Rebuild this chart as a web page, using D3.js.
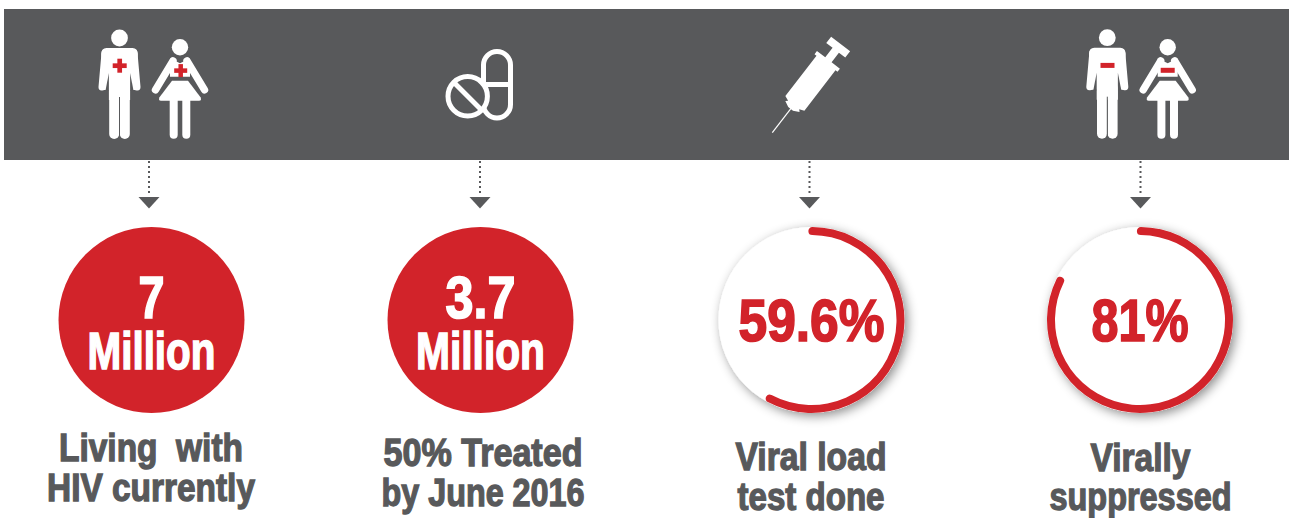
<!DOCTYPE html>
<html>
<head>
<meta charset="utf-8">
<script src="https://cdn.jsdelivr.net/npm/d3@7"></script>
<style>
  html, body { margin: 0; padding: 0; background: #fff; }
  svg { display: block; }
  text { font-family: "Liberation Sans Narrow", "Liberation Sans", sans-serif; font-weight: 700; white-space: pre; }
</style>
</head>
<body>
<svg id="chart" width="1290" height="518"></svg>
<script>
const columns = ["living", "treated", "tested", "suppressed"];
const bigValues = ["7", "3.7", "59.6%", "81%"];
const bigUnits = ["Million", "Million", "", ""];
const ringShares = [null, null, 0.585, 0.83];
const captionTop = ["Living  with", "50% Treated", "Viral load", "Virally"];
const captionBottom = ["HIV currently", "by June 2016", "test done", "suppressed"];

const valueWidths = [26, 70, 146, 97];
const unitWidths = [128, 129, 0, 0];
const topWidths = [184, 199, 151, 100];
const bottomWidths = [208, 203, 147, 182];
const topBaselines = [461, 466, 470, 471];
const bottomBaselines = [501, 506, 510, 510];
const captionCentres = [151, 483, 811, 1140.5];
const arrowCentres = [149, 480, 809.5, 1140.5];
const circleCentres = [151.5, 480.5, 811.5, 1140];

const grey = "#58595b";
const red = "#d2232a";
const radius = 93;
const cy = 320;

const svg = d3.select("#chart");
const defs = svg.append("defs");
const shadow = defs.append("filter").attr("id", "soft")
  .attr("x", "-25%").attr("y", "-25%").attr("width", "150%").attr("height", "150%");
shadow.append("feDropShadow")
  .attr("dx", 3).attr("dy", 3).attr("stdDeviation", 5.5)
  .attr("flood-color", "#000").attr("flood-opacity", 0.45);

const arrowX = d3.scaleOrdinal().domain(columns).range(arrowCentres);
const circleX = d3.scaleOrdinal().domain(columns).range(circleCentres);
const ringAngle = d3.scaleLinear().domain([0, 1]).range([0, 2 * Math.PI]);

svg.append("rect")
  .attr("x", 4).attr("y", 9).attr("width", 1285).attr("height", 151)
  .attr("fill", grey);

// people icons, origin is the centre of the head
function man(g, x, y, mark) {
  const p = g.append("g").attr("transform", `translate(${x},${y})`).attr("fill", "#fff");
  p.append("circle").attr("r", 8.4);
  p.append("path").attr("d", "M-13,10 L13,10 Q18,10 18.3,16 L16,52 L10.6,52 L10.6,62 L-10.6,62 L-10.6,52 L-16,52 L-18.3,16 Q-18,10 -13,10 Z");
  [-1, 1].forEach(s => {
    p.append("line").attr("x1", s * 14.5).attr("y1", 15).attr("x2", s * 17.5).attr("y2", 49)
      .attr("stroke", "#fff").attr("stroke-width", 7).attr("stroke-linecap", "round");
    p.append("path").attr("d", `M${s * 10.6},35 L${s * 14},52.5 L${s * 10.6},52.5 Z`).attr("fill", grey);
    p.append("line").attr("x1", s * 5.3).attr("y1", 50).attr("x2", s * 5.3).attr("y2", 96)
      .attr("stroke", "#fff").attr("stroke-width", 10).attr("stroke-linecap", "round");
  });
  p.append("line").attr("x1", 0).attr("y1", 59).attr("x2", 0).attr("y2", 101)
    .attr("stroke", grey).attr("stroke-width", 1);
  mark(p, 0.2, 27.7);
}

function woman(g, x, y, mark) {
  const p = g.append("g").attr("transform", `translate(${x},${y})`).attr("fill", "#fff");
  p.append("circle").attr("r", 8.2);
  [-1, 1].forEach(s => {
    p.append("line").attr("x1", s * 7).attr("y1", 13.5).attr("x2", s * 24.5).attr("y2", 42.5)
      .attr("stroke", "#fff").attr("stroke-width", 7.4).attr("stroke-linecap", "round");
    p.append("line").attr("x1", s * 6.3).attr("y1", 50).attr("x2", s * 6.3).attr("y2", 87.5)
      .attr("stroke", "#fff").attr("stroke-width", 8).attr("stroke-linecap", "round");
  });
  p.append("path").attr("d", "M-10,11 L0,16 L10,11 L10,29.5 L-10,29.5 Z");
  p.append("path").attr("d", "M-8,33.5 L8,33.5 L20.5,50 Q22,53.5 19,53.5 L-19,53.5 Q-22,53.5 -20.5,50 Z");
  mark(p, 0.7, 23.3);
}

function plus(size, thick) {
  return (p, x, y) => {
    p.append("rect").attr("x", x - size / 2).attr("y", y - thick / 2).attr("width", size).attr("height", thick).attr("fill", red);
    p.append("rect").attr("x", x - thick / 2).attr("y", y - size / 2).attr("width", thick).attr("height", size).attr("fill", red);
  };
}

function minus(p, x, y) {
  p.append("rect").attr("x", x - 7).attr("y", y - 2.5).attr("width", 14).attr("height", 5).attr("fill", red);
}

const icons = svg.append("g").attr("class", "icons");
man(icons, 119.5, 38, plus(14, 4.7));
woman(icons, 180, 47.3, plus(13, 4.5));
man(icons, 1107.3, 37.7, minus);
woman(icons, 1167.7, 47.3, (p, x) => minus(p, x - 0.7, 23));

// pills, the tablet sits on top of the capsule
const pill = icons.append("g").attr("fill", "none").attr("stroke", "#fff").attr("stroke-width", 5);
pill.append("path").attr("d", "M483.5,65 A13.5,13.5 0 0 1 510.5,65 L510.5,104.5 A13.5,13.5 0 0 1 483.5,104.5 Z");
pill.append("line").attr("x1", 483.5).attr("y1", 84.5).attr("x2", 510.5).attr("y2", 84.5);
pill.append("circle").attr("cx", 467.7).attr("cy", 96.3).attr("r", 19.7).attr("fill", grey);
pill.append("line").attr("x1", 453.7).attr("y1", 82.3).attr("x2", 481.7).attr("y2", 110.3);

// syringe, drawn upright from the needle tip and then tilted
const syringe = icons.append("g").attr("transform", "translate(772.3,132.7) rotate(37.6)").attr("fill", "#fff");
syringe.append("rect").attr("x", -0.6).attr("y", -32).attr("width", 1.2).attr("height", 32);
syringe.append("path").attr("d", "M-3,-30 L-9,-33 L-7,-35 L-12,-37 L-12,-88 L-14.5,-88 L-14.5,-92 L-4,-92 L-4,-104 L-12,-104 L-12,-112 L12,-112 L12,-104 L4,-104 L4,-92 L14.5,-92 L14.5,-88 L12,-88 L12,-37 L7,-35 L9,-33 L3,-30 Z");

// dotted drops from the banner
const drops = svg.append("g").selectAll("g").data(columns).join("g")
  .attr("transform", d => `translate(${arrowX(d)},0)`);
drops.append("line")
  .attr("y1", 161).attr("y2", 193)
  .attr("stroke", grey).attr("stroke-width", 2).attr("stroke-dasharray", "2 3");
drops.append("path")
  .attr("d", "M-10.5,197 L10.5,197 L0,208.5 Z").attr("fill", grey);

const badges = svg.append("g").selectAll("g").data(columns).join("g")
  .attr("transform", d => `translate(${circleX(d)},${cy})`);

badges.append("circle")
  .attr("r", radius)
  .attr("fill", (d, i) => ringShares[i] === null ? red : "#fff")
  .attr("filter", (d, i) => ringShares[i] === null ? null : "url(#soft)");

const ring = d3.arc().innerRadius(radius - 8).outerRadius(radius).cornerRadius(4).startAngle(-0.035);
badges.filter((d, i) => ringShares[i] !== null)
  .append("path")
  .attr("fill", red)
  .attr("d", d => ring({ endAngle: ringAngle(ringShares[columns.indexOf(d)]) }));

function fitText(sel, size, fill, weight) {
  return sel.attr("text-anchor", "middle")
    .attr("font-size", size)
    .attr("fill", fill)
    .attr("stroke", fill)
    .attr("stroke-width", weight)
    .attr("lengthAdjust", "spacingAndGlyphs");
}

// value and unit share one text element, the unit sits on a second line
const bigText = badges.append("text")
  .attr("text-anchor", "middle")
  .attr("fill", (d, i) => ringShares[i] === null ? "#fff" : red)
  .attr("stroke", (d, i) => ringShares[i] === null ? "#fff" : red);

bigText.append("tspan")
  .text((d, i) => bigValues[i])
  .attr("x", 0)
  .attr("y", (d, i) => ringShares[i] === null ? -2 : 21)
  .attr("textLength", (d, i) => valueWidths[i])
  .attr("lengthAdjust", "spacingAndGlyphs")
  .attr("font-size", 60)
  .attr("stroke-width", 1.7);

bigText.filter((d, i) => bigUnits[i] !== "")
  .append("tspan")
  .text(d => bigUnits[columns.indexOf(d)])
  .attr("x", 0)
  .attr("y", 49)
  .attr("textLength", d => unitWidths[columns.indexOf(d)])
  .attr("lengthAdjust", "spacingAndGlyphs")
  .attr("font-size", 51)
  .attr("stroke-width", 1.5);

const captions = svg.append("g").selectAll("g").data(columns).join("g")
  .attr("transform", (d, i) => `translate(${captionCentres[i]},0)`);
captions.append("text")
  .text((d, i) => captionTop[i])
  .attr("y", (d, i) => topBaselines[i])
  .attr("textLength", (d, i) => topWidths[i])
  .call(s => fitText(s, 38, grey, 1.3));
captions.append("text")
  .text((d, i) => captionBottom[i])
  .attr("y", (d, i) => bottomBaselines[i])
  .attr("textLength", (d, i) => bottomWidths[i])
  .call(s => fitText(s, 38, grey, 1.3));
</script>
</body>
</html>
